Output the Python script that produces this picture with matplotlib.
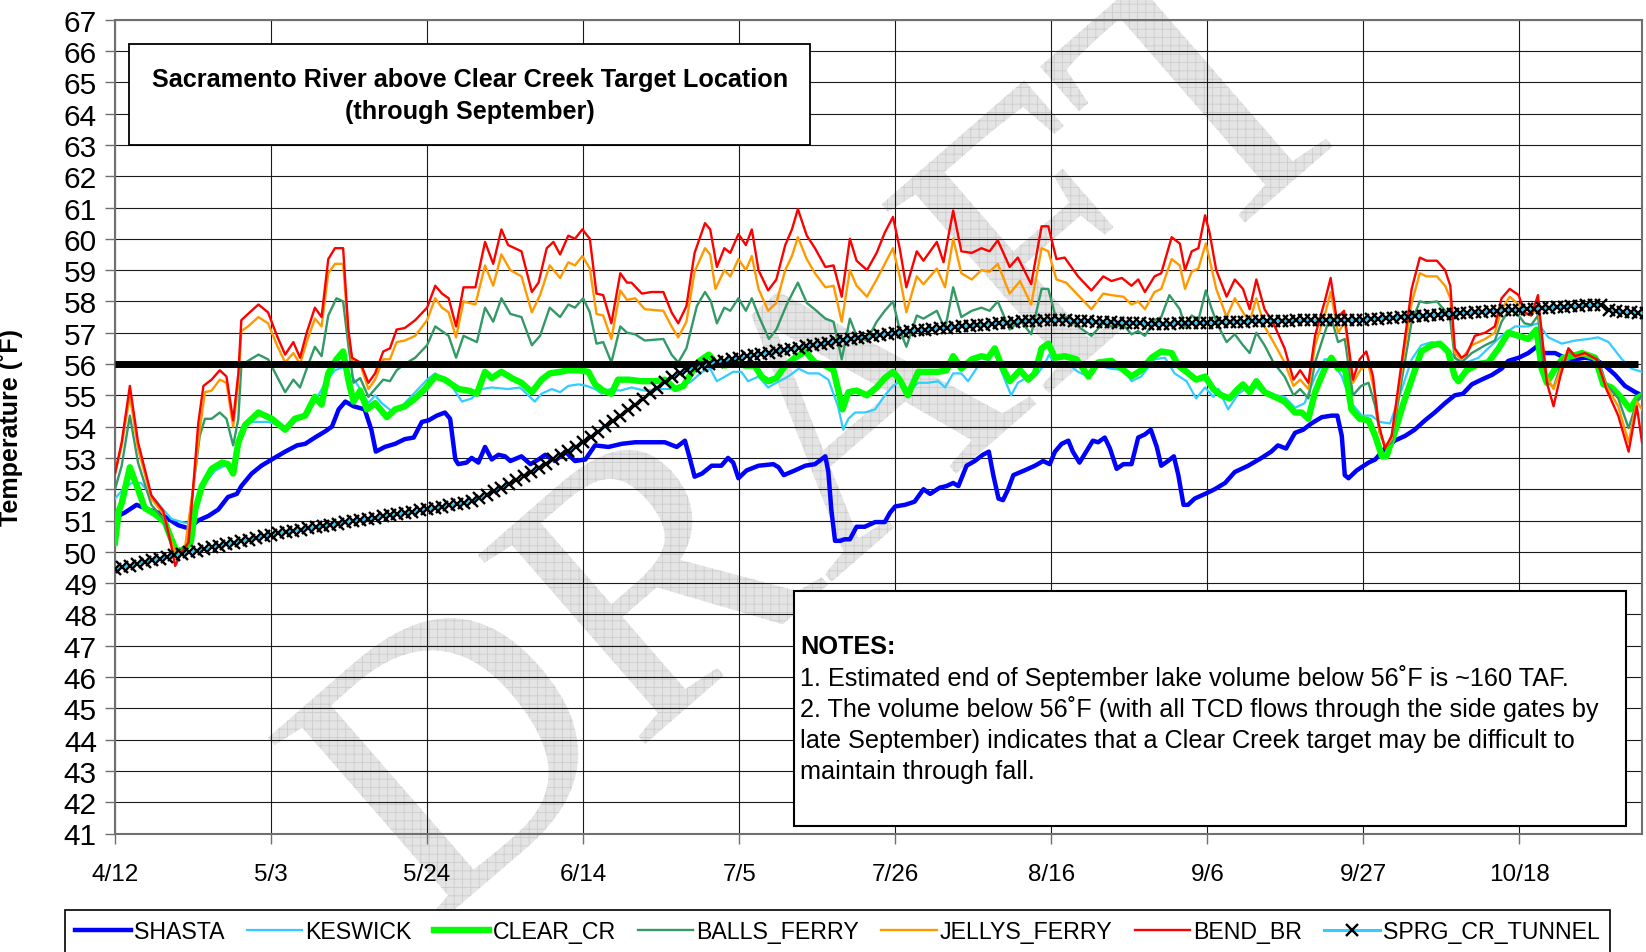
import matplotlib
matplotlib.use('Agg')
import matplotlib.pyplot as plt
from matplotlib.patches import Rectangle, PathPatch
from matplotlib.textpath import TextPath
from matplotlib.font_manager import FontProperties
from matplotlib.transforms import Affine2D

plt.rcParams['font.family'] = ['Liberation Sans', 'DejaVu Sans']
plt.rcParams['hatch.linewidth'] = 0.6

# ---------------- data (day index 0 = 4/12) ----------------
tick_days = [0, 21, 42, 63, 84, 105, 126, 147, 168, 189]
tick_labels = ['4/12', '5/3', '5/24', '6/14', '7/5', '7/26', '8/16', '9/6', '9/27', '10/18']
y_ticks = list(range(41, 68))
target_temp = 56
target_days = [0, 204.9]

shasta_days = [0, 1.3, 2.9, 4.5, 5.8, 7.2, 8.5, 9.9, 11.2, 12.6, 13.9, 15.2, 16.4, 17.0, 18.4, 19.7, 21.1, 22.9, 24.5, 25.6,
               26.9, 28.3, 29.2, 30.1, 31.0, 32.1, 33.6, 34.5, 35.1, 36.3, 37.7, 39.0, 40.2, 41.3, 42.2, 43.3, 44.4, 45.1, 45.8, 46.2,
               47.3, 48.0, 48.9, 49.8, 50.7, 51.6, 52.5, 53.2, 54.7, 55.9, 57.0, 57.9, 59.2, 60.6, 61.9, 63.3, 64.6, 66.4, 68.2, 70.0,
               72.2, 74.0, 75.6, 76.7, 77.4, 78.0, 79.0, 80.3, 81.6, 82.5, 83.2, 83.9, 85.0, 86.6, 88.6, 89.3, 90.0, 91.5, 92.9, 94.2,
               95.6, 96.0, 96.4, 96.9, 97.6, 98.2, 98.9, 99.8, 100.9, 102.3, 103.6, 104.3, 105.0, 106.3, 107.6, 108.8, 109.7, 111.0, 111.9, 112.8,
               113.5, 114.6, 115.7, 116.8, 117.6, 118.2, 118.9, 119.5, 120.2, 120.9, 122.4, 123.8, 124.9, 125.8, 126.5, 127.4, 128.3, 128.9, 129.8, 130.7,
               131.6, 132.3, 133.2, 133.9, 134.8, 135.7, 136.8, 137.7, 138.6, 139.4, 140.2, 140.8, 141.7, 142.5, 143.1, 143.8, 144.4, 145.3, 146.7, 148.0,
               149.4, 150.7, 152.5, 154.3, 155.6, 156.5, 157.6, 158.8, 159.9, 161.0, 162.4, 163.7, 164.5, 165.1, 165.5, 166.0, 167.1, 168.7, 169.6, 170.9,
               172.2, 173.6, 174.9, 176.3, 177.6, 179.0, 180.3, 181.4, 182.6, 183.9, 185.3, 186.6, 187.5, 188.9, 190.2, 191.3, 192.4, 193.8, 195.1, 196.5,
               197.8, 199.2, 200.5, 201.9, 203.2, 204.6, 205.5]
shasta_vals = [51.1, 51.25, 51.5, 51.35, 51.25, 51.05, 50.85, 50.75, 51.0, 51.15, 51.35, 51.75, 51.85, 52.1, 52.5, 52.75, 52.95, 53.2, 53.4, 53.45,
               53.65, 53.85, 54.0, 54.55, 54.8, 54.65, 54.55, 53.9, 53.2, 53.35, 53.45, 53.6, 53.65, 54.15, 54.2, 54.35, 54.45, 54.25, 52.95, 52.8,
               52.85, 53.0, 52.85, 53.35, 52.95, 53.1, 53.05, 52.9, 53.05, 52.8, 52.95, 53.1, 52.9, 53.2, 52.9, 52.95, 53.4, 53.35, 53.45, 53.5,
               53.5, 53.5, 53.35, 53.55, 52.95, 52.4, 52.5, 52.75, 52.75, 53.0, 52.85, 52.35, 52.6, 52.75, 52.8, 52.7, 52.45, 52.6, 52.75, 52.8,
               53.05, 52.55, 51.35, 50.35, 50.35, 50.4, 50.4, 50.8, 50.8, 50.95, 50.95, 51.25, 51.45, 51.5, 51.6, 52.0, 51.85, 52.05, 52.1, 52.2,
               52.1, 52.75, 52.9, 53.1, 53.2, 52.45, 51.7, 51.65, 52.0, 52.45, 52.6, 52.75, 52.9, 52.8, 53.2, 53.45, 53.55, 53.2, 52.85, 53.2,
               53.55, 53.5, 53.65, 53.3, 52.65, 52.8, 52.8, 53.65, 53.75, 53.9, 53.35, 52.75, 52.9, 53.05, 52.45, 51.5, 51.5, 51.7, 51.85, 52.0,
               52.2, 52.55, 52.75, 53.0, 53.2, 53.4, 53.3, 53.8, 53.9, 54.1, 54.3, 54.35, 54.35, 53.7, 52.45, 52.35, 52.6, 52.85, 52.95, 53.3,
               53.55, 53.7, 53.9, 54.2, 54.45, 54.75, 55.0, 55.05, 55.35, 55.5, 55.65, 55.85, 56.1, 56.2, 56.35, 56.55, 56.35, 56.35, 56.2, 56.15,
               56.2, 56.15, 55.95, 55.65, 55.3, 55.1, 55.0]

keswick_days = [0, 1.1, 2.2, 3.5, 4.9, 6.5, 7.6, 9.0, 10.1, 11.0, 12.1, 13.5, 14.8, 15.9, 16.8, 17.9, 19.3, 20.6, 22.0, 23.1,
                24.2, 25.6, 26.9, 28.3, 29.6, 30.7, 31.9, 33.0, 34.1, 35.0, 35.9, 37.2, 38.6, 40.4, 42.0, 43.1, 44.0, 45.3, 46.7, 48.0,
                49.3, 50.7, 52.9, 54.5, 55.6, 56.5, 57.4, 58.8, 59.9, 61.0, 62.4, 63.5, 64.6, 65.5, 66.6, 68.0, 69.5, 71.3, 73.6, 74.9,
                76.3, 77.6, 79.0, 80.1, 81.0, 82.1, 83.2, 84.3, 85.2, 86.6, 87.9, 89.0, 90.6, 92.0, 93.3, 94.7, 96.0, 97.3, 98.0, 98.7,
                99.6, 100.9, 102.3, 103.6, 104.7, 105.6, 106.7, 108.1, 109.4, 110.8, 111.7, 112.8, 113.9, 114.8, 116.2, 117.5, 118.9, 120.0, 120.6, 121.5,
                122.9, 124.2, 125.1, 125.7, 126.5, 128.0, 129.6, 131.0, 132.3, 134.1, 135.9, 136.8, 138.1, 139.9, 141.3, 142.6, 144.2, 145.5, 146.7, 147.8,
                148.5, 149.8, 151.2, 152.1, 153.4, 154.7, 156.1, 157.4, 158.8, 160.1, 161.5, 162.8, 163.7, 165.1, 166.4, 167.8, 169.1, 170.2, 171.6, 172.9,
                174.5, 175.8, 177.2, 178.5, 179.6, 180.6, 181.9, 183.5, 184.8, 186.6, 188.4, 190.2, 191.5, 192.9, 194.7, 196.5, 198.3, 199.6, 201.0, 202.8,
                204.1, 205.5]
keswick_vals = [51.7, 52.0, 52.2, 52.2, 51.8, 51.35, 51.05, 50.95, 50.9, 51.6, 52.2, 52.6, 52.75, 52.65, 53.8, 54.15, 54.15, 54.15, 54.05, 53.9,
                54.2, 54.35, 54.8, 55.4, 55.8, 55.9, 55.6, 55.2, 54.75, 55.0, 54.75, 54.5, 54.65, 55.1, 55.5, 55.7, 55.55, 55.3, 54.8, 54.9,
                55.2, 55.25, 55.2, 55.25, 55.0, 54.8, 55.05, 55.2, 55.1, 55.3, 55.35, 55.3, 55.2, 55.05, 55.2, 55.15, 55.25, 55.15, 55.2, 55.2,
                55.3, 55.45, 55.75, 55.85, 55.45, 55.6, 55.75, 55.75, 55.45, 55.6, 55.25, 55.4, 55.6, 55.85, 55.7, 55.7, 55.5, 54.65, 53.9, 54.25,
                54.45, 54.45, 54.55, 55.0, 55.3, 55.45, 55.1, 55.4, 55.4, 55.45, 55.25, 55.7, 55.7, 55.45, 55.95, 56.1, 56.0, 55.35, 55.0, 55.4,
                55.6, 55.7, 56.0, 56.3, 56.0, 56.05, 55.75, 55.6, 55.95, 55.85, 55.8, 55.45, 55.6, 56.15, 56.2, 55.7, 55.45, 54.9, 55.25, 54.95,
                55.2, 54.55, 55.05, 55.2, 55.3, 55.05, 55.0, 54.95, 54.6, 54.75, 55.6, 56.15, 56.15, 55.6, 54.75, 54.35, 54.35, 54.15, 54.1, 55.0,
                56.15, 56.6, 56.7, 56.6, 56.4, 56.15, 56.05, 56.2, 56.5, 56.9, 57.2, 57.2, 57.3, 56.85, 56.65, 56.75, 56.8, 56.85, 56.7, 56.15,
                55.85, 55.75]

clear_days = [0, 0.5, 0.9, 2.0, 3.1, 4.0, 5.4, 6.7, 7.6, 8.3, 9.4, 10.2, 10.8, 11.7, 13.0, 14.4, 15.2, 15.9, 16.6, 17.5,
              19.3, 21.1, 22.9, 24.2, 25.6, 26.9, 27.8, 28.7, 29.8, 30.7, 31.4, 32.1, 33.0, 33.9, 35.0, 36.6, 37.7, 39.0, 40.4, 41.7,
              43.1, 44.4, 46.2, 47.6, 48.7, 49.8, 50.7, 52.0, 53.4, 54.7, 56.1, 57.4, 58.5, 59.9, 61.0, 62.4, 63.7, 64.6, 65.7, 66.8,
              67.7, 69.1, 70.9, 72.7, 74.0, 75.4, 76.5, 77.8, 78.7, 79.9, 80.8, 82.1, 83.4, 84.8, 86.1, 87.0, 87.9, 89.0, 90.2, 91.5,
              92.9, 94.2, 95.6, 96.7, 97.4, 97.9, 98.7, 99.8, 101.2, 102.5, 103.6, 104.7, 105.6, 106.7, 108.1, 109.4, 110.8, 111.9, 112.8, 113.9,
              115.3, 116.6, 117.5, 118.4, 119.3, 120.4, 121.8, 122.9, 123.8, 124.7, 125.6, 126.5, 127.8, 129.4, 131.0, 132.3, 134.1, 135.5, 136.8, 138.1,
              139.5, 140.8, 142.2, 143.1, 144.2, 145.5, 146.7, 147.8, 148.9, 150.0, 150.9, 151.8, 152.7, 153.6, 154.7, 156.1, 157.4, 158.8, 159.7, 160.6,
              161.5, 162.8, 163.7, 164.6, 165.5, 166.4, 167.5, 168.7, 169.6, 170.5, 171.1, 172.2, 173.4, 174.5, 175.8, 177.2, 178.3, 179.4, 180.3, 180.8,
              181.9, 183.5, 184.8, 186.2, 187.5, 188.9, 190.2, 191.3, 192.0, 192.7, 193.8, 194.9, 196.1, 197.4, 199.2, 200.3, 201.4, 202.8, 203.9, 204.8,
              205.5]
clear_vals = [50.3, 51.3, 51.55, 52.7, 52.0, 51.4, 51.2, 50.95, 50.4, 50.0, 50.1, 50.3, 51.35, 52.1, 52.65, 52.85, 52.8, 52.5, 53.5, 54.05,
              54.45, 54.25, 53.9, 54.25, 54.35, 54.95, 54.7, 55.7, 56.15, 56.4, 55.5, 54.8, 55.15, 54.55, 54.75, 54.3, 54.55, 54.65, 54.9, 55.2,
              55.6, 55.5, 55.2, 55.15, 55.05, 55.75, 55.55, 55.75, 55.55, 55.4, 55.1, 55.5, 55.7, 55.75, 55.8, 55.8, 55.75, 55.35, 55.15, 55.05,
              55.5, 55.5, 55.45, 55.45, 55.5, 55.2, 55.3, 55.8, 56.1, 56.3, 56.05, 55.95, 56.05, 55.95, 55.95, 55.6, 55.45, 55.55, 55.95, 56.2,
              56.4, 56.05, 55.95, 55.8, 55.1, 54.55, 55.1, 55.15, 55.0, 55.25, 55.55, 55.75, 55.5, 55.0, 55.75, 55.75, 55.75, 55.8, 56.25, 55.85,
              56.15, 56.25, 56.2, 56.5, 55.95, 55.45, 55.8, 55.5, 55.7, 56.5, 56.65, 56.2, 56.25, 56.15, 55.6, 56.05, 56.1, 55.85, 55.6, 55.8,
              56.2, 56.4, 56.35, 55.95, 55.75, 55.5, 55.6, 55.2, 55.0, 54.9, 55.15, 55.35, 55.1, 55.45, 55.1, 54.95, 54.8, 54.45, 54.45, 54.25,
              55.1, 55.85, 56.2, 55.85, 55.9, 54.55, 54.25, 54.2, 53.7, 53.05, 53.05, 53.8, 54.75, 55.5, 56.4, 56.6, 56.65, 56.4, 55.6, 55.45,
              55.8, 56.0, 56.05, 56.5, 57.0, 56.9, 56.8, 57.1, 55.85, 55.4, 55.85, 56.2, 56.25, 56.35, 56.2, 55.35, 55.25, 54.9, 54.55, 54.9,
              55.0]

balls_days = [0, 0.9, 2.0, 3.1, 4.9, 6.5, 7.6, 8.5, 9.6, 10.5, 11.4, 12.1, 13.0, 14.1, 15.0, 15.9, 16.6, 17.0, 17.9, 19.3,
              20.6, 21.8, 22.9, 24.0, 24.9, 25.8, 26.9, 27.8, 28.7, 29.8, 30.7, 31.4, 32.1, 33.0, 34.1, 35.0, 36.1, 37.0, 37.9, 39.0,
              40.4, 42.0, 43.1, 44.0, 44.9, 45.9, 46.9, 48.7, 49.8, 50.9, 52.0, 53.2, 54.7, 56.1, 57.2, 58.5, 59.9, 61.0, 61.9, 63.0,
              63.9, 64.8, 65.7, 66.8, 68.0, 68.9, 70.0, 71.3, 73.8, 74.9, 75.8, 76.9, 78.3, 79.4, 80.2, 81.0, 82.0, 82.8, 83.9, 84.9,
              85.7, 86.6, 88.0, 89.0, 90.4, 91.9, 93.1, 94.4, 95.6, 96.7, 97.8, 98.9, 99.8, 101.2, 102.5, 103.6, 104.7, 105.6, 106.5, 107.9,
              108.8, 110.6, 111.7, 112.8, 113.9, 115.3, 116.6, 117.7, 118.8, 120.4, 121.8, 123.3, 124.7, 125.6, 126.7, 128.0, 129.6, 131.4, 133.0, 134.1,
              135.7, 136.8, 137.7, 138.6, 139.9, 140.8, 141.9, 143.3, 144.0, 144.9, 145.8, 146.8, 147.6, 148.5, 149.6, 150.7, 151.8, 152.7, 153.6, 154.7,
              155.9, 157.4, 158.6, 159.5, 160.6, 161.5, 162.8, 163.6, 164.6, 165.5, 166.6, 167.7, 168.7, 169.6, 170.2, 171.0, 171.8, 173.1, 174.5, 175.6,
              176.5, 177.9, 179.0, 179.7, 180.3, 181.2, 182.6, 184.4, 185.7, 186.6, 187.7, 188.9, 189.7, 190.6, 191.5, 192.2, 192.9, 193.6, 194.7, 195.6,
              196.5, 198.3, 199.6, 200.7, 202.3, 203.7, 204.8, 205.5]
balls_vals = [52.0, 52.75, 54.35, 52.85, 51.5, 51.05, 50.2, 50.0, 50.2, 52.0, 53.7, 54.25, 54.25, 54.45, 54.25, 53.4, 54.25, 55.95, 56.1, 56.3,
              56.15, 55.6, 55.1, 55.5, 55.25, 55.85, 56.55, 56.25, 57.55, 58.1, 58.0, 56.6, 55.4, 55.55, 54.95, 55.2, 55.5, 55.45, 55.8, 56.0,
              56.2, 56.6, 57.2, 57.05, 56.9, 56.2, 56.9, 56.7, 57.8, 57.35, 58.1, 57.6, 57.5, 56.6, 56.9, 57.8, 57.5, 57.9, 57.8, 58.1,
              57.65, 56.65, 56.7, 56.05, 57.2, 57.0, 56.95, 56.75, 56.8, 56.3, 56.05, 56.5, 57.85, 58.3, 58.0, 57.3, 57.8, 57.7, 58.1, 57.7,
              58.1, 57.55, 56.8, 57.1, 57.9, 58.6, 57.95, 57.7, 57.45, 57.35, 56.15, 57.45, 56.9, 56.75, 57.35, 57.7, 58.0, 57.1, 56.55, 57.55,
              57.45, 57.7, 57.1, 58.45, 57.5, 57.7, 57.8, 57.7, 58.0, 57.1, 57.4, 56.95, 58.4, 58.4, 57.4, 57.5, 57.2, 56.9, 57.3, 57.2,
              57.25, 56.95, 57.05, 56.9, 57.4, 57.5, 58.2, 57.75, 57.2, 57.55, 57.4, 58.35, 57.75, 57.2, 56.7, 56.95, 56.6, 56.35, 57.0, 56.6,
              56.05, 55.6, 55.0, 55.2, 54.9, 56.05, 57.0, 57.55, 56.7, 56.8, 55.0, 55.3, 55.4, 54.65, 53.8, 53.35, 53.5, 55.4, 57.35, 58.0,
              57.95, 58.0, 57.7, 57.4, 56.2, 56.05, 56.35, 56.6, 56.75, 57.35, 57.75, 57.55, 57.3, 57.25, 57.55, 56.05, 55.4, 55.25, 56.05, 56.4,
              56.25, 56.3, 56.15, 55.35, 54.9, 53.95, 54.8, 55.0]

jellys_days = [0, 0.9, 2.0, 3.1, 4.9, 6.5, 7.6, 8.3, 9.4, 10.5, 11.4, 12.1, 13.0, 14.1, 15.0, 15.9, 16.6, 17.0, 17.9, 19.3,
               20.6, 21.8, 22.9, 24.0, 24.9, 25.8, 26.9, 27.8, 28.7, 29.6, 30.7, 31.4, 31.9, 33.0, 34.1, 35.0, 36.1, 37.0, 37.9, 39.0,
               40.4, 42.0, 43.1, 44.0, 44.9, 45.9, 46.9, 48.5, 49.8, 50.9, 52.0, 53.2, 54.7, 56.1, 57.2, 58.5, 59.9, 61.0, 61.9, 62.9,
               63.9, 64.8, 65.7, 66.8, 68.0, 68.9, 70.0, 71.3, 73.8, 74.9, 75.8, 76.9, 78.0, 79.4, 80.1, 80.8, 82.0, 82.8, 83.9, 84.9,
               85.7, 86.6, 87.9, 89.0, 90.2, 91.1, 91.9, 93.1, 94.2, 95.6, 96.7, 97.8, 98.9, 99.8, 101.2, 102.5, 103.6, 104.7, 105.6, 106.5,
               107.9, 108.8, 110.6, 111.7, 112.8, 113.9, 115.3, 116.6, 117.7, 118.8, 120.4, 121.8, 123.3, 124.7, 125.6, 126.7, 128.0, 129.6, 131.4, 133.0,
               134.1, 135.7, 136.8, 137.7, 138.6, 139.9, 140.8, 142.2, 143.3, 144.0, 144.9, 145.8, 146.8, 147.3, 148.2, 149.6, 150.7, 151.8, 152.7, 153.6,
               154.7, 155.9, 157.4, 158.6, 159.5, 160.6, 161.5, 162.8, 163.6, 164.6, 165.5, 166.6, 167.7, 168.7, 169.6, 170.2, 171.0, 171.8, 173.1, 174.5,
               175.6, 176.5, 177.9, 179.0, 179.7, 180.3, 181.2, 182.6, 184.4, 185.7, 186.6, 187.7, 188.9, 189.7, 190.6, 191.5, 192.0, 192.7, 193.6, 194.5,
               195.6, 196.5, 198.3, 199.4, 200.7, 202.3, 203.7, 204.8, 205.5]
jellys_vals = [52.5, 53.4, 55.0, 53.3, 51.7, 51.2, 50.3, 49.9, 50.1, 52.0, 53.9, 55.1, 55.15, 55.5, 55.4, 54.0, 55.4, 57.05, 57.2, 57.5,
               57.3, 56.6, 56.05, 56.35, 56.0, 56.7, 57.45, 57.2, 58.9, 59.2, 59.2, 57.0, 56.1, 56.0, 55.2, 55.5, 56.15, 56.15, 56.7, 56.75,
               56.9, 57.4, 58.1, 57.8, 57.65, 56.85, 58.0, 57.9, 59.15, 58.5, 59.5, 59.0, 58.8, 57.65, 58.2, 59.15, 58.75, 59.25, 59.15, 59.45,
               59.05, 57.6, 57.55, 56.8, 58.35, 58.05, 58.1, 57.75, 57.7, 57.2, 56.85, 57.35, 58.95, 59.7, 59.5, 58.4, 59.0, 58.8, 59.35, 59.0,
               59.45, 58.4, 57.7, 57.95, 59.0, 59.45, 60.05, 59.35, 58.9, 58.45, 58.5, 57.35, 59.0, 58.5, 58.15, 58.7, 59.2, 59.7, 58.8, 57.65,
               58.8, 58.55, 59.05, 58.45, 60.0, 58.9, 58.7, 59.0, 58.95, 59.2, 58.25, 58.65, 57.9, 59.7, 59.6, 58.7, 58.6, 58.2, 57.75, 58.25,
               58.2, 58.15, 57.9, 58.0, 57.75, 58.3, 58.4, 59.35, 59.15, 58.4, 58.95, 59.05, 59.85, 59.35, 58.4, 57.5, 58.1, 57.65, 57.35, 58.1,
               57.2, 56.7, 56.05, 55.3, 55.5, 55.2, 56.6, 57.55, 58.3, 57.0, 57.35, 55.4, 55.85, 55.95, 55.0, 53.8, 53.35, 53.6, 55.75, 57.95,
               58.9, 58.8, 58.8, 58.5, 58.1, 56.35, 56.15, 56.6, 56.8, 57.0, 57.75, 58.15, 57.9, 57.6, 57.55, 57.85, 56.9, 55.6, 55.2, 55.8,
               56.5, 56.25, 56.3, 56.15, 55.3, 54.65, 53.5, 54.8, 54.55]

bend_days = [0, 0.9, 2.0, 3.1, 4.9, 6.5, 7.4, 8.1, 9.0, 9.9, 10.5, 11.2, 11.9, 13.0, 14.1, 15.0, 15.9, 16.6, 17.0, 17.9,
             19.3, 20.6, 21.8, 22.9, 24.0, 24.9, 25.8, 26.9, 27.8, 28.7, 29.6, 30.7, 31.4, 31.9, 33.0, 34.1, 35.0, 36.1, 37.0, 37.9,
             39.0, 40.4, 42.0, 43.1, 44.0, 44.9, 45.9, 46.9, 48.5, 49.8, 50.9, 52.0, 52.9, 54.7, 56.1, 57.0, 58.1, 59.0, 59.9, 61.0,
             61.9, 62.9, 63.9, 64.8, 65.7, 66.8, 68.0, 68.9, 69.5, 70.9, 72.2, 73.8, 74.9, 75.8, 76.9, 78.0, 79.4, 80.1, 81.0, 82.0,
             82.8, 83.9, 84.9, 85.7, 86.6, 87.9, 89.0, 90.2, 91.1, 91.9, 93.1, 94.2, 95.6, 96.7, 97.8, 98.9, 99.8, 101.2, 102.5, 103.6,
             104.7, 105.6, 106.5, 107.9, 108.8, 110.6, 111.5, 112.8, 113.9, 115.3, 116.6, 117.7, 118.8, 120.4, 121.5, 123.3, 124.7, 125.6, 126.7, 127.8,
             129.6, 131.4, 133.0, 134.1, 135.5, 136.8, 137.7, 138.6, 139.9, 140.8, 142.2, 143.3, 144.0, 144.9, 145.8, 146.7, 147.3, 148.2, 149.6, 150.7,
             151.8, 152.7, 153.6, 154.7, 155.9, 157.4, 158.6, 159.5, 160.6, 161.5, 162.8, 163.6, 164.4, 165.4, 166.6, 167.5, 168.4, 169.3, 170.0, 170.9,
             171.8, 173.1, 174.5, 175.6, 176.5, 177.9, 179.0, 179.7, 180.3, 181.2, 181.9, 183.0, 184.4, 185.7, 186.6, 187.7, 188.9, 189.7, 190.6, 191.5,
             192.0, 192.7, 193.6, 194.5, 195.6, 196.5, 197.8, 199.4, 200.7, 202.3, 203.7, 204.8, 205.5]
bend_vals = [52.5, 53.5, 55.3, 53.5, 51.8, 51.3, 50.4, 49.55, 50.0, 50.3, 52.0, 54.1, 55.3, 55.5, 55.8, 55.6, 54.2, 55.7, 57.4, 57.6,
             57.9, 57.65, 56.9, 56.3, 56.7, 56.2, 57.0, 57.8, 57.5, 59.35, 59.7, 59.7, 57.1, 56.2, 56.05, 55.4, 55.7, 56.4, 56.5, 57.1,
             57.15, 57.4, 57.8, 58.5, 58.25, 58.1, 57.2, 58.45, 58.45, 59.9, 59.2, 60.3, 59.8, 59.6, 58.3, 58.6, 59.7, 59.9, 59.5, 60.1,
             60.0, 60.3, 60.0, 58.25, 58.2, 57.3, 58.9, 58.6, 58.6, 58.25, 58.3, 58.3, 57.65, 57.3, 57.85, 59.55, 60.5, 60.3, 59.1, 59.7,
             59.55, 60.15, 59.8, 60.3, 59.0, 58.35, 58.7, 59.8, 60.3, 60.95, 60.1, 59.7, 59.1, 59.15, 58.15, 60.0, 59.3, 59.0, 59.55, 60.2,
             60.7, 59.7, 58.45, 59.6, 59.3, 59.9, 59.25, 60.9, 59.6, 59.55, 59.7, 59.6, 59.95, 59.1, 59.4, 58.55, 60.4, 60.4, 59.35, 59.4,
             58.8, 58.35, 58.8, 58.65, 58.75, 58.5, 58.7, 58.3, 58.8, 58.9, 60.05, 59.85, 59.0, 59.6, 59.7, 60.75, 60.2, 59.0, 58.15, 58.7,
             58.4, 57.75, 58.7, 57.75, 57.3, 56.5, 55.5, 55.8, 55.4, 56.9, 58.0, 58.75, 57.45, 57.7, 55.5, 56.15, 56.4, 55.6, 54.15, 53.3,
             53.7, 55.95, 58.4, 59.4, 59.3, 59.3, 59.0, 58.5, 56.5, 56.2, 56.3, 56.9, 57.0, 57.2, 58.1, 58.4, 58.2, 57.65, 57.55, 58.2,
             57.0, 55.4, 54.65, 55.6, 56.5, 56.25, 56.35, 56.15, 55.2, 54.35, 53.2, 54.65, 53.5]

tunnel_vals = [49.45, 49.51, 49.56, 49.62, 49.67, 49.73, 49.78, 49.84, 49.89, 49.94, 49.99, 50.04, 50.09, 50.14, 50.19, 50.24, 50.29, 50.34, 50.39, 50.44,
               50.50, 50.55, 50.59, 50.63, 50.67, 50.71, 50.75, 50.79, 50.82, 50.86, 50.90, 50.94, 50.98, 51.01, 51.05, 51.09, 51.13, 51.16, 51.20, 51.24,
               51.28, 51.32, 51.36, 51.40, 51.44, 51.48, 51.52, 51.56, 51.62, 51.72, 51.83, 51.94, 52.05, 52.17, 52.30, 52.43, 52.56, 52.69, 52.82, 52.95,
               53.08, 53.22, 53.36, 53.50, 53.67, 53.84, 54.01, 54.18, 54.35, 54.52, 54.70, 54.88, 55.06, 55.24, 55.42, 55.58, 55.70, 55.80, 55.88, 55.95,
               56.01, 56.06, 56.11, 56.16, 56.20, 56.24, 56.28, 56.32, 56.36, 56.40, 56.44, 56.48, 56.52, 56.56, 56.60, 56.64, 56.68, 56.72, 56.76, 56.80,
               56.84, 56.87, 56.90, 56.93, 56.96, 56.99, 57.02, 57.05, 57.08, 57.10, 57.12, 57.14, 57.16, 57.18, 57.20, 57.22, 57.24, 57.26, 57.28, 57.30,
               57.32, 57.34, 57.36, 57.37, 57.38, 57.39, 57.40, 57.40, 57.39, 57.38, 57.37, 57.36, 57.35, 57.34, 57.33, 57.32, 57.31, 57.30, 57.30, 57.29,
               57.29, 57.29, 57.29, 57.30, 57.30, 57.30, 57.30, 57.31, 57.32, 57.33, 57.34, 57.35, 57.35, 57.36, 57.37, 57.37, 57.38, 57.38, 57.38, 57.39,
               57.39, 57.39, 57.40, 57.40, 57.40, 57.40, 57.41, 57.41, 57.42, 57.44, 57.45, 57.47, 57.48, 57.50, 57.51, 57.53, 57.54, 57.56, 57.57, 57.59,
               57.60, 57.62, 57.63, 57.65, 57.66, 57.68, 57.69, 57.71, 57.72, 57.74, 57.75, 57.77, 57.78, 57.80, 57.81, 57.83, 57.84, 57.86, 57.87, 57.89,
               57.90, 57.72, 57.68, 57.66, 57.65, 57.64, 57.63]
tunnel_days = list(range(len(tunnel_vals)))

title_lines = ['Sacramento River above Clear Creek Target Location', '(through September)']
notes_head = 'NOTES:'
notes_lines = ['1. Estimated end of September lake volume below 56˚F is ~160 TAF.',
               '2. The volume below 56˚F (with all TCD flows through the side gates by',
               'late September) indicates that a Clear Creek target may be difficult to',
               'maintain through fall.']
watermark_text = 'DRAFT'

# ---------------- figure ----------------
W, H = 1646, 953
fig = plt.figure(figsize=(W / 100, H / 100), dpi=100)
fig.patch.set_facecolor('white')


def fx(x):
    return x / W


def fy(y):
    return 1 - y / H


ax = fig.add_axes([fx(115), fy(834.5), 1527 / W, (834.5 - 20.7) / H])
ax.set_facecolor('none')

# watermark (serif, light hatched grey, diagonal)
tp = TextPath((0, 0), watermark_text, size=385, prop=FontProperties(family='Liberation Serif'))
ext = tp.get_extents()
cx, cy = (ext.x0 + ext.x1) / 2, (ext.y0 + ext.y1) / 2
wm_tr = Affine2D().translate(-cx, -cy).rotate_deg(41).translate(820, H - 425)
wm = PathPatch(tp, transform=wm_tr, facecolor='#E4E4E4', edgecolor='#CDCDCD', hatch='++', lw=0, zorder=-1)
fig.add_artist(wm)

lw_main = 1.7
ax.plot(shasta_days, shasta_vals, color='#0000FF', lw=3.2, label='SHASTA', zorder=3.0)
ax.plot(keswick_days, keswick_vals, color='#33CCFF', lw=1.6, label='KESWICK', zorder=3.1)
ax.plot(clear_days, clear_vals, color='#00FF00', lw=4.6, label='CLEAR_CR', zorder=3.2)
ax.plot(balls_days, balls_vals, color='#339966', lw=lw_main, label='BALLS_FERRY', zorder=3.3)
ax.plot(jellys_days, jellys_vals, color='#FF9900', lw=lw_main, label='JELLYS_FERRY', zorder=3.4)
ax.plot(bend_days, bend_vals, color='#FF0000', lw=lw_main, label='BEND_BR', zorder=3.5)
ax.plot(target_days, [target_temp, target_temp], color='black', lw=5.0, zorder=3.6, solid_capstyle='butt')
ax.plot(tunnel_days, tunnel_vals, color='#33CCFF', lw=2.2, marker='x', ms=9, mec='black', mew=1.7,
        label='SPRG_CR_TUNNEL', zorder=3.7)

ax.set_xlim(0, 205.5)
ax.set_ylim(41, 67)
ax.set_yticks(y_ticks)
ax.set_xticks(tick_days)
ax.set_xticklabels(tick_labels)
ax.grid(True, color='#1a1a1a', lw=0.8, zorder=1.5)
for s in ax.spines.values():
    s.set_color('#707070')
    s.set_linewidth(1.5)
ax.tick_params(axis='both', direction='out', length=7, width=1, color='#707070')
ax.tick_params(axis='y', labelsize=21.5, pad=6)
ax.tick_params(axis='x', labelsize=17.5, pad=14)
ax.set_ylabel('Temperature (˚F)', fontsize=18, fontweight='bold')
ax.yaxis.set_label_coords((23 - 115) / 1527, 0.5)

# title box
fig.add_artist(Rectangle((fx(129), fy(146)), 681 / W, 101 / H, transform=fig.transFigure,
                         facecolor='white', edgecolor='black', lw=1.3, zorder=4))
fig.text(fx(470), fy(80), title_lines[0], ha='center', va='center', fontsize=18.2, fontweight='bold', zorder=5)
fig.text(fx(470), fy(112), title_lines[1], ha='center', va='center', fontsize=18.2, fontweight='bold', zorder=5)

# notes box
fig.add_artist(Rectangle((fx(794), fy(827)), 832 / W, 235 / H, transform=fig.transFigure,
                         facecolor='white', edgecolor='black', lw=1.5, zorder=4))
fig.text(fx(800), fy(647), notes_head, ha='left', va='center', fontsize=18.2, fontweight='bold', zorder=5)
for i, line in enumerate(notes_lines):
    fig.text(fx(800), fy(678 + 31.4 * i), line, ha='left', va='center', fontsize=18.2, zorder=5)

# legend
handles, labels = ax.get_legend_handles_labels()
leg = fig.legend(handles, labels, loc='upper left', bbox_to_anchor=(fx(65), fy(911)),
                 bbox_transform=fig.transFigure, ncol=7, fontsize=16.7, frameon=True, fancybox=False,
                 edgecolor='black', framealpha=1, handlelength=2.4, handletextpad=0.13,
                 columnspacing=0.95, borderpad=0.45, borderaxespad=0, numpoints=1)
leg.get_frame().set_linewidth(1.2)
leg.set_zorder(6)

fig.savefig('out.png', dpi=100)
